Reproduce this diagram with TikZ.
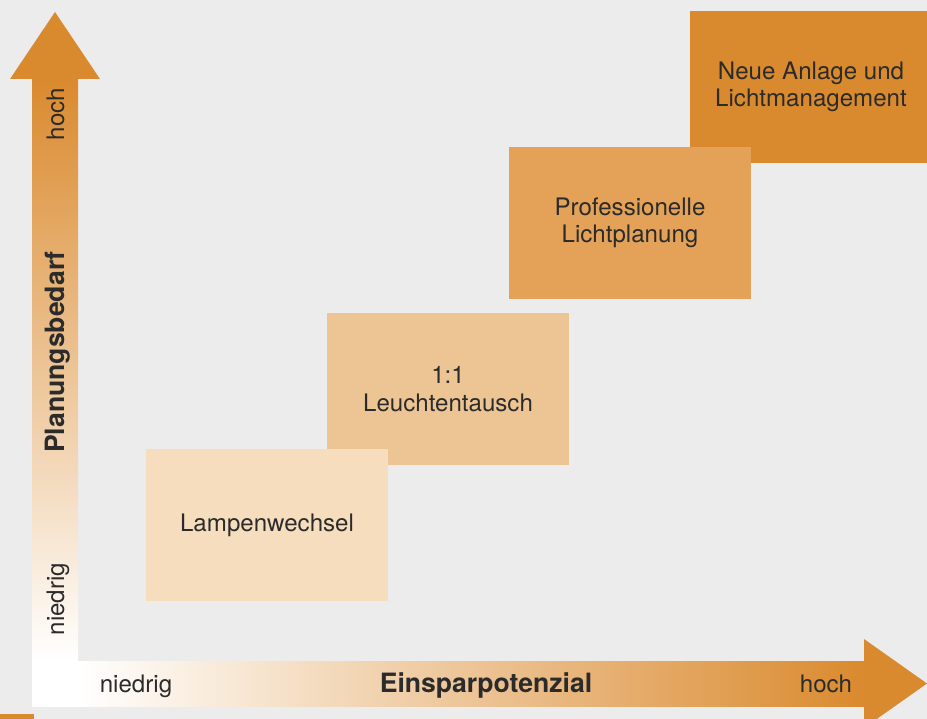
\documentclass[tikz,border=0pt]{standalone}
\usepackage{fontspec}
\setmainfont{TeX Gyre Heros}
\usepackage{tikz}
\usetikzlibrary{calc}

\definecolor{hintergrund}{HTML}{ECECEC}
\definecolor{pfeil}{HTML}{DA8A2E}
\definecolor{stufeA}{HTML}{F5DDBE}
\definecolor{stufeB}{HTML}{EDC595}
\definecolor{stufeC}{HTML}{E3A258}
\definecolor{stufeD}{HTML}{DA8A2E}
\definecolor{schrift}{HTML}{2B2B2B}

\tikzset{
	stufe/.style={minimum width=242pt,minimum height=152pt,inner sep=0pt,align=center,
		text=schrift,font=\fontsize{24.1}{27.5}\selectfont},
	achse/.style={inner sep=0pt,anchor=base,text=schrift,font=\fontsize{24.1}{27.5}\selectfont},
	achsefett/.style={achse,font=\fontsize{26.6}{28}\selectfont\bfseries}
}

\begin{document}
\begin{tikzpicture}[x=1pt,y=-1pt]

	\clip (0,0) rectangle (927,719);
	\fill[hintergrund] (0,0) rectangle (927,719);

	% Stufen
	\node[stufe,fill=stufeD] (anlage) at (811,87) {Neue Anlage und\\Lichtmanagement};
	\node[stufe,fill=stufeC] (planung) at (630,223) {Professionelle\\Lichtplanung};
	\node[stufe,fill=stufeB] (tausch) at (448,389) {1:1\\Leuchtentausch};
	\node[stufe,fill=stufeA] (lampe) at (267,525) {Lampenwechsel};

	% Achsen
	\shade[left color=white,right color=pfeil] (78,661) rectangle (864,706);
	\fill[pfeil] (864,639) -- (927,683.5) -- (864,728) -- cycle;
	\shade[top color=pfeil,bottom color=white] (32,79) rectangle (78,661);
	\fill[white] (32,661) rectangle (78,707);
	\fill[pfeil] (10,79) -- (55,12) -- (100,79) -- cycle;
	\fill[pfeil] (0,714) rectangle (34,719);

	\node[achse,rotate=90] (yhoch) at (64,114) {hoch};
	\node[achsefett,rotate=90] (ytitel) at (64,352) {Planungsbedarf};
	\node[achse,rotate=90] (yniedrig) at (64,599) {niedrig};

	\node[achse] (xniedrig) at (136,692) {niedrig};
	\node[achsefett] (xtitel) at (486,692) {Einsparpotenzial};
	\node[achse] (xhoch) at (826,692) {hoch};

\end{tikzpicture}
\end{document}
